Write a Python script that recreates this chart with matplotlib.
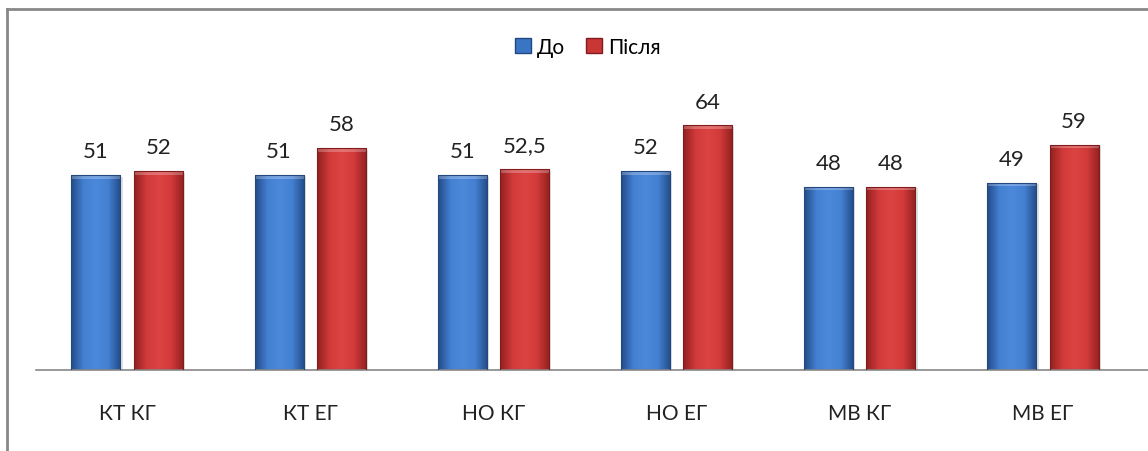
import numpy as np
import matplotlib.pyplot as plt
from matplotlib.lines import Line2D
from matplotlib.colors import LinearSegmentedColormap

plt.rcParams['font.family'] = ['Lato', 'DejaVu Sans']

categories = ["КТ КГ", "КТ ЕГ", "НО КГ", "НО ЕГ", "МВ КГ", "МВ ЕГ"]
before = [51, 51, 51, 52, 48, 49]
after = [52, 58, 52.5, 64, 48, 59]
before_labels = ["51", "51", "51", "52", "48", "49"]
after_labels = ["52", "58", "52,5", "64", "48", "59"]

W, H = 1148, 452
fig = plt.figure(figsize=(W / 100, H / 100), dpi=100)
ax = fig.add_axes([35.5 / W, 81 / H, 1099 / W, 267.5 / H])

x = np.arange(len(categories))
bw = 0.268
off = 0.17

blue_cm = LinearSegmentedColormap.from_list("b", ["#234c88", "#4480d2", "#4d89da", "#4480d2", "#234c88"])
red_cm = LinearSegmentedColormap.from_list("r", ["#922020", "#d23a3a", "#dc4444", "#d23a3a", "#922020"])

grad = np.linspace(0, 1, 64).reshape(1, -1)

def draw(vals, labels, dx, cmap, edge):
    bars = ax.bar(x + dx, vals, bw, color="none", edgecolor=edge, linewidth=0.8, zorder=3)
    for b, lab in zip(bars, labels):
        x0, w, h = b.get_x(), b.get_width(), b.get_height()
        # shadow
        ax.add_patch(plt.Rectangle((x0 + 0.012, 0), w, h - 0.4, color="#000000", alpha=0.12, zorder=1, lw=0))
        im = ax.imshow(grad, cmap=cmap, extent=[x0, x0 + w, 0, h], aspect="auto", zorder=2)
        im.set_clip_path(b)
        # top bevel
        ax.add_patch(plt.Rectangle((x0, h - 0.9), w, 0.9, color="white", alpha=0.25, zorder=2.5, lw=0))
        ax.annotate(lab, (x0 + w / 2, h), xytext=(0, 10), textcoords="offset points",
                    ha="center", va="bottom", fontsize=16, color="#222222")
    return bars

draw(before, before_labels, -off, blue_cm, "#22487f")
draw(after, after_labels, off, red_cm, "#801c1c")

ax.set_xlim(-0.5, len(categories) - 0.5)
ax.set_ylim(0, 70)
ax.set_xticks(x)
ax.set_xticklabels(categories, fontsize=15, color="#222222")
ax.tick_params(axis="x", length=0, pad=24)
ax.set_yticks([])
for s in ["top", "right", "left"]:
    ax.spines[s].set_visible(False)
ax.spines["bottom"].set_color("#888888")
ax.spines["bottom"].set_linewidth(1.2)
ax.spines["bottom"].set_bounds(-0.5, len(categories) - 0.5 + 13 / 183)
ax.spines["bottom"].set_clip_on(False)

handles = [plt.Rectangle((0, 0), 1, 1, facecolor="#3a74c4", edgecolor="#22487f"),
           plt.Rectangle((0, 0), 1, 1, facecolor="#c93636", edgecolor="#801c1c")]
fig.legend(handles, ["До", "Після"], loc="center", bbox_to_anchor=(588 / W, 1 - 48 / H),
           ncol=2, frameon=False, fontsize=15, handlelength=0.75, handleheight=0.75,
           handletextpad=0.3, columnspacing=1.0)

fig.add_artist(Line2D([7 / W, 1], [1 - 10 / H, 1 - 10 / H], color="#888888", lw=2, transform=fig.transFigure))
fig.add_artist(Line2D([7 / W, 7 / W], [0, 1 - 10 / H], color="#888888", lw=2, transform=fig.transFigure))

fig.savefig("out.png", dpi=100)
